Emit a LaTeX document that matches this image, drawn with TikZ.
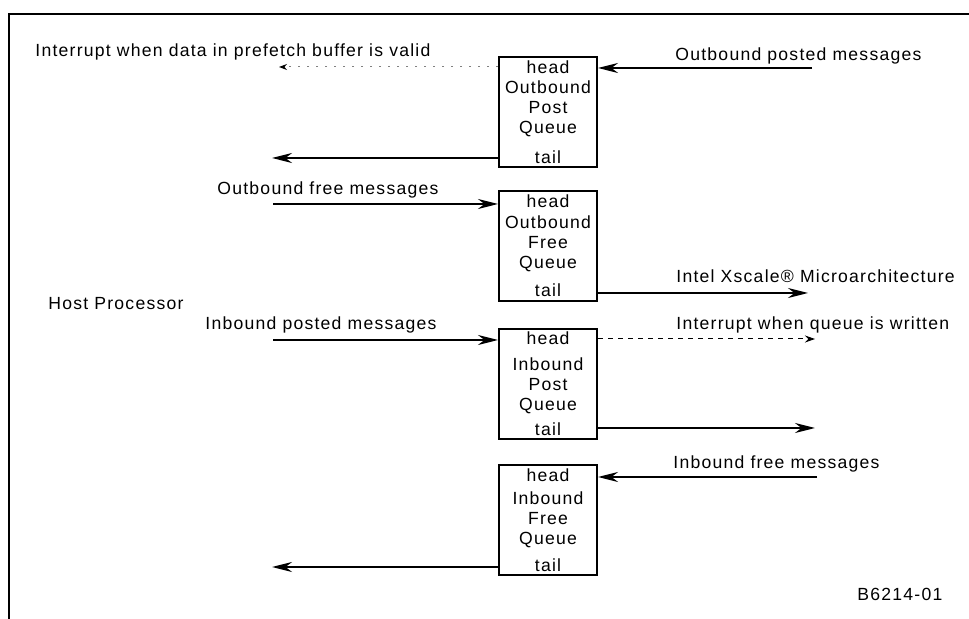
\documentclass[tikz,border=0pt]{standalone}
\usepackage{fontspec}
\setmainfont[LetterSpace=7]{Liberation Sans}
\usetikzlibrary{arrows.meta}
\begin{document}
\begin{tikzpicture}[x=0.5pt,y=-0.5pt,
  font=\fontsize{8.8}{10}\selectfont,
  queue/.style={draw,line width=1pt,minimum width=49pt,minimum height=55pt,inner sep=0pt},
  lbl/.style={inner sep=0pt},
  solidarrow/.style={line width=1pt,-{Stealth[length=10pt,width=5pt]}},
  dotarrow/.style={line width=0.5pt,gray,dash pattern=on 1pt off 3.5pt,-{Stealth[length=4pt,width=3pt,black]}},
  dasharrow/.style={line width=0.5pt,dash pattern=on 2.5pt off 2.5pt,-{Stealth[length=5pt,width=3.5pt]}}]
\useasboundingbox (0,0) rectangle (969,619);
% frame
\draw[line width=1pt] (9,619) -- (9,14) -- (969,14);

% queues
\node[queue] (b1) at (548,112) {};
\node[queue] (b2) at (548,246) {};
\node[queue] (b3) at (548,384.5) {};
\node[queue] (b4) at (548,520.5) {};

\node[lbl] (b1h) at (548,67) {head};
\node[lbl,align=center] (b1n) at (548,109) {Outbound\\Post\\Queue};
\node[lbl] (b1t) at (548,157) {tail};

\node[lbl] (b2h) at (548,201) {head};
\node[lbl,align=center] (b2n) at (548,244) {Outbound\\Free\\Queue};
\node[lbl] (b2t) at (548,290) {tail};

\node[lbl] (b3h) at (548,338) {head};
\node[lbl,align=center] (b3n) at (548,386) {Inbound\\Post\\Queue};
\node[lbl] (b3t) at (548,429) {tail};

\node[lbl] (b4h) at (548,475) {head};
\node[lbl,align=center] (b4n) at (548,520) {Inbound\\Free\\Queue};
\node[lbl] (b4t) at (548,565) {tail};

% labels
\node[lbl,anchor=mid west] (t1) at (35,51) {Interrupt when data in prefetch buffer is valid};
\node[lbl,anchor=mid west] (t2) at (675,55) {Outbound posted messages};
\node[lbl,anchor=mid west] (t3) at (217,189) {Outbound free messages};
\node[lbl,anchor=mid west] (t4) at (676,277) {Intel Xscale® Microarchitecture};
\node[lbl,anchor=mid west] (t5) at (48,304) {Host Processor};
\node[lbl,anchor=mid west] (t6) at (205,324) {Inbound posted messages};
\node[lbl,anchor=mid west] (t7) at (676,324) {Interrupt when queue is written};
\node[lbl,anchor=mid west] (t8) at (673,463) {Inbound free messages};
\node[lbl,anchor=mid west] (t9) at (857,595) {B6214-01};

% free ends
\coordinate (e1) at (812,68);
\coordinate (e2) at (279,67);
\coordinate (e3) at (272,158);
\coordinate (e4) at (273,204);
\coordinate (e5) at (808,293);
\coordinate (e6) at (273,340);
\coordinate (e7) at (815,339);
\coordinate (e8) at (815,428);
\coordinate (e9) at (817,477);
\coordinate (e10) at (272,567);

% connectors
\draw[solidarrow] (e1) -- (b1.east |- e1);
\draw[dotarrow] (b1.west |- e2) -- (e2);
\draw[solidarrow] (b1.west |- e3) -- (e3);
\draw[solidarrow] (e4) -- (b2.west |- e4);
\draw[solidarrow] (b2.east |- e5) -- (e5);
\draw[solidarrow] (e6) -- (b3.west |- e6);
\draw[dasharrow] (b3.east |- e7) -- (e7);
\draw[solidarrow] (b3.east |- e8) -- (e8);
\draw[solidarrow] (e9) -- (b4.east |- e9);
\draw[solidarrow] (b4.west |- e10) -- (e10);
\end{tikzpicture}
\end{document}
